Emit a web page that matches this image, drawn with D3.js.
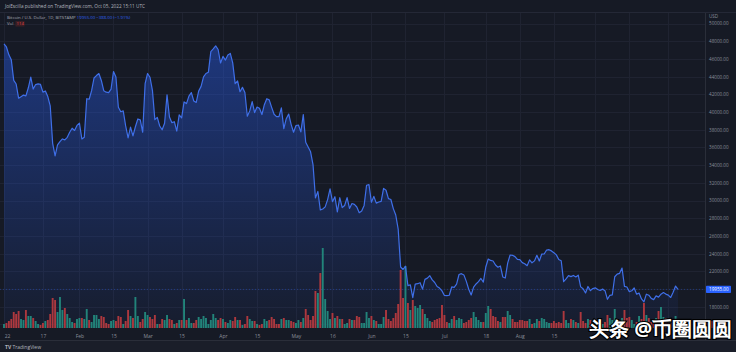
<!DOCTYPE html>
<html><head><meta charset="utf-8">
<script src="https://cdn.jsdelivr.net/npm/d3@7/dist/d3.min.js"></script>
<style>html,body{margin:0;padding:0;background:#161a25;overflow:hidden}svg{display:block}text{font-family:"Open Sans","DejaVu Sans",sans-serif}</style>
</head><body>
<svg id="c" width="736" height="352"></svg>
<script>
// ---- data ----
const startDate = "2022-01-01";
const closes = [
47686,47345,46458,45897,43569,43160,41558,41734,41912,41822,42736,43949,42591,43099,43177,43113,42250,42375,41744,40681,36457,35030,36276,36654,36954,36852,37138,37713,38166,37917,38483,
38743,36952,37155,41501,41441,42413,43841,44118,44347,43566,42408,42244,42197,42586,44575,43961,40538,40031,40122,38431,37075,38286,37296,38332,39214,39105,37710,43194,
44354,43925,42452,39138,39400,38420,37989,38731,41942,39437,38795,38904,37849,39666,39338,41143,40951,41801,42191,41247,41077,42358,42893,43960,44349,44500,46820,47128,47465,47063,45538,
46281,45868,46453,46622,45555,43207,43503,42287,42782,42207,39521,40127,41166,39935,40553,40424,39716,40827,41502,41374,40527,39740,39478,39469,40458,38117,39241,39773,38609,37714,
38469,38529,37750,39698,36575,36040,35502,34059,30296,31022,28936,29047,29283,30101,31305,29862,30425,28720,30314,29200,29432,30323,29098,29655,29562,29267,28627,28814,29445,31726,31792,
29799,30467,29704,29832,29906,31370,31155,30214,30112,29083,28360,26762,22487,22206,22572,20381,20471,19017,20553,20599,20710,19987,21085,21231,21502,21027,20735,20280,20104,19785,
19269,19242,19297,20231,20190,20548,21637,21731,21592,20860,19970,19323,20212,20569,20836,21190,20779,22485,23389,23231,23164,22714,22465,22609,21361,21239,22930,23843,23804,23656,23336,
23314,22978,22846,22630,23289,22961,23175,23810,23164,23947,23957,24403,24442,24305,24095,23855,23342,23191,20834,21140,21516,21400,21529,21368,21560,20241,20037,19555,20285,19812,20050,
20131,19952,19832,19986,19812,18837,19290,19329,21381,21680,21769,22371,20297,20226,19701,19804,20113,19417,19537,18876,18547,19414,19297,18937,18803,19223,19079,19412,19592,19423,
19313,19044,19623,20336,19955];
const openFirst = 46200;
const volumes = [
1200,1500,2100,2700,4800,4200,5100,2700,2400,5400,3600,3600,3000,2100,1200,900,1500,2100,2400,4200,9000,8400,4800,9300,5400,6000,4200,3000,1800,1500,2700,
3000,3000,2700,5700,2400,1800,3900,3900,2700,3600,3300,1500,1200,2100,2400,2100,3600,3300,1200,2100,5400,3600,3000,9300,3600,1800,2700,4800,
3900,3300,2700,3900,1200,1200,2700,2400,3900,2700,2400,1200,1500,2400,2400,8700,2400,3000,1500,1500,2400,3300,2700,3600,3000,1200,2400,4200,3000,2400,3000,
2700,1800,1500,2400,2100,3300,2400,2400,900,1200,3600,2700,2100,2100,1200,900,1200,2700,2100,2400,3300,2700,1200,1200,2700,3000,2400,2400,2100,1800,
1500,2400,1800,3000,5700,3900,2400,3600,11100,10500,16500,24000,8700,5100,2700,4500,3000,3600,2700,2700,1200,1500,2700,2400,2400,3600,3300,1500,1500,4800,3000,
3600,2400,2100,1200,1200,3300,5400,2700,2100,3000,4500,7200,17400,9000,18600,7500,5400,8400,6600,6000,6900,5700,4200,3000,2100,1800,2400,2700,3000,6900,
3900,1800,1500,2700,3600,2400,3000,2700,1500,1800,2400,3000,4800,3300,2400,1800,1800,4500,6600,5700,3600,3300,2100,1800,3300,3300,5100,3900,2700,1800,1800,
2400,2400,2100,2100,2700,1200,1500,2700,2100,3000,2700,1800,1500,1500,2100,1500,1800,1500,5100,2400,1500,2700,2400,1800,1500,4800,2100,1500,2700,2400,2400,
2100,2100,1200,1200,1800,3900,3000,2400,5700,2700,2100,3000,5400,3000,3300,2400,1200,1800,3600,2700,7500,3900,3000,1800,1500,3000,5100,6300,3300,3000,
1500,1500,2400,3600,1200];
const gridTicks = d3.range(16000, 50001, 2000);
// price labels visible in the reference (16000 is hidden under the watermark)
const priceTicks = d3.range(18000, 50001, 2000);
// time labels visible in the reference (later ones are hidden under the watermark)
const timeTickDates = ["2022-01-01","2022-01-17","2022-02-01","2022-02-15","2022-03-01","2022-03-15","2022-04-01","2022-04-15","2022-05-01","2022-05-16","2022-06-01","2022-06-15","2022-07-01","2022-07-18","2022-08-01","2022-08-15"];
const timeTickLabels = ["22","17","Feb","15","Mar","15","Apr","15","May","16","Jun","15","Jul","18","Aug","15"];
const gridOnlyDates = ["2022-09-01","2022-09-15","2022-10-01"];
const lastPrice = 19955;

// ---- build ----
const parse = d3.utcParse("%Y-%m-%d");
const d0 = parse(startDate);
const data = closes.map((c,i)=>({date:d3.utcDay.offset(d0,i), close:c, vol:volumes[i],
  up: c >= (i===0 ? openFirst : closes[i-1])}));

const svg = d3.select("#c");
const W=736, H=352, plotR=705, plotT=13, plotB=328;
svg.append("rect").attr("width",W).attr("height",H).attr("fill","#161a25");

const x = d3.scaleUtc().domain([d0, data[data.length-1].date]).range([4, 678]);
const y = d3.scaleLinear().domain([16000, 50000]).range([324.4, 23.5]);
const yv = d3.scaleLinear().domain([0, 24000]).range([plotB, plotB-80]);

// grid
const g = svg.append("g");
g.selectAll("line.h").data(gridTicks).join("line")
  .attr("x1",0).attr("x2",plotR).attr("y1",d=>Math.round(y(d))+0.5).attr("y2",d=>Math.round(y(d))+0.5)
  .attr("stroke","#1f2331").attr("stroke-width",1);
g.selectAll("line.v").data(timeTickDates.concat(gridOnlyDates)).join("line")
  .attr("x1",d=>Math.round(x(parse(d)))+0.5).attr("x2",d=>Math.round(x(parse(d)))+0.5)
  .attr("y1",plotT).attr("y2",plotB).attr("stroke","#1f2331").attr("stroke-width",1);

// area gradient
const defs = svg.append("defs");
const grad = defs.append("linearGradient").attr("id","ag").attr("gradientUnits","userSpaceOnUse")
  .attr("x1",0).attr("x2",0).attr("y1",30).attr("y2",plotB);
grad.append("stop").attr("offset","0%").attr("stop-color","#2962ff").attr("stop-opacity",0.42);
grad.append("stop").attr("offset","100%").attr("stop-color","#2962ff").attr("stop-opacity",0.04);

svg.append("path").datum(data)
  .attr("d", d3.area().x(d=>x(d.date)).y0(plotB).y1(d=>y(d.close)))
  .attr("fill","url(#ag)");

// volume
const bw = 1.9;
svg.append("g").selectAll("rect").data(data).join("rect")
  .attr("x",d=>x(d.date)-bw/2).attr("width",bw)
  .attr("y",d=>yv(d.vol)).attr("height",d=>plotB-yv(d.vol))
  .attr("fill",d=>d.up ? "#22847a" : "#ad383e");

// last price dotted line
svg.append("line").attr("x1",0).attr("x2",plotR).attr("y1",y(lastPrice)).attr("y2",y(lastPrice))
  .attr("stroke","#2962ff").attr("stroke-opacity",0.35).attr("stroke-dasharray","1,2");

// line
svg.append("path").datum(data)
  .attr("d", d3.line().x(d=>x(d.date)).y(d=>y(d.close)))
  .attr("fill","none").attr("stroke","#3f6fe8").attr("stroke-width",1.2).attr("stroke-linejoin","round");

// right axis
svg.append("line").attr("x1",plotR+0.5).attr("x2",plotR+0.5).attr("y1",plotT).attr("y2",340).attr("stroke","#2a2e39");
const ax = svg.append("g").attr("transform",`translate(${plotR},0)`)
  .call(d3.axisRight(y).tickValues(priceTicks).tickFormat(d3.format(".2f")).tickSize(0).tickPadding(4));
ax.select(".domain").remove();
ax.selectAll("text").attr("fill","#8b8f9a").attr("font-size","4.6px");
svg.append("text").attr("x",709).attr("y",18).attr("fill","#8b8f9a").attr("font-size","4.6px").text("USD");
// last price label
svg.append("rect").attr("x",plotR+1).attr("y",y(lastPrice)-3.6).attr("width",25).attr("height",7.2).attr("fill","#2962ff").attr("rx",0.8);
svg.append("text").attr("x",plotR+4).attr("y",y(lastPrice)+1.6).attr("fill","#ffffff").attr("font-size","4.6px").text(d3.format(".2f")(lastPrice));
// volume label box
svg.append("rect").attr("x",plotR+1).attr("y",321).attr("width",18).attr("height",7).attr("fill","#c0393f").attr("rx",0.8);

// time axis
svg.append("line").attr("x1",0).attr("x2",W).attr("y1",340.5).attr("y2",340.5).attr("stroke","#2a2e39");
svg.append("rect").attr("x",0).attr("y",341).attr("width",W).attr("height",11).attr("fill","#1a1e29");
const tx = svg.append("g").attr("transform",`translate(0,${plotB})`)
  .call(d3.axisBottom(x).tickValues(timeTickDates.map(parse)).tickFormat((d,i)=>timeTickLabels[i]).tickSize(0).tickPadding(6));
tx.select(".domain").remove();
tx.selectAll("text").attr("fill","#8b8f9a").attr("font-size","5px");
tx.selectAll("text").filter((d,i)=>i===0).attr("dx","3");

// header
svg.append("line").attr("x1",0).attr("x2",W).attr("y1",12.5).attr("y2",12.5).attr("stroke","#242836");
svg.append("text").attr("x",5).attr("y",7.5).attr("fill","#b2b5be").attr("font-size","4.7px")
  .text("JoiEscilla published on TradingView.com, Oct 05, 2022 15:11 UTC");
const t2 = svg.append("text").attr("x",7).attr("y",18.5).attr("font-size","4.3px");
t2.append("tspan").attr("fill","#a9acb6").text("Bitcoin / U.S. Dollar, 1D, BITSTAMP  ");
t2.append("tspan").attr("fill","#2f62ef").text(" 19955.00  −388.00 (−1.91%)");
svg.append("text").attr("x",7).attr("y",25).attr("fill","#a9acb6").attr("font-size","4.3px").text("Vol");
svg.append("rect").attr("x",15.5).attr("y",21).attr("width",9).attr("height",5.5).attr("fill","#3a1e24");
svg.append("text").attr("x",16.5).attr("y",25).attr("fill","#e0474c").attr("font-size","4.3px").text("114");

// logo
const lg = svg.append("text").attr("x",5).attr("y",348.5).attr("font-size","5px").attr("fill","#b2b5be");
lg.append("tspan").attr("font-weight","bold").text("TV ");
lg.append("tspan").text("TradingView");

// watermark
svg.append("text").attr("x",589).attr("y",336).attr("font-size","20px")
  .attr("font-family","'Noto Sans CJK SC',sans-serif").attr("fill","#ffffff")
  .attr("stroke","#000000").attr("stroke-width",2.2).attr("paint-order","stroke").attr("font-weight","bold")
  .text("头条 @币圈圆圆");
</script>
</body></html>
